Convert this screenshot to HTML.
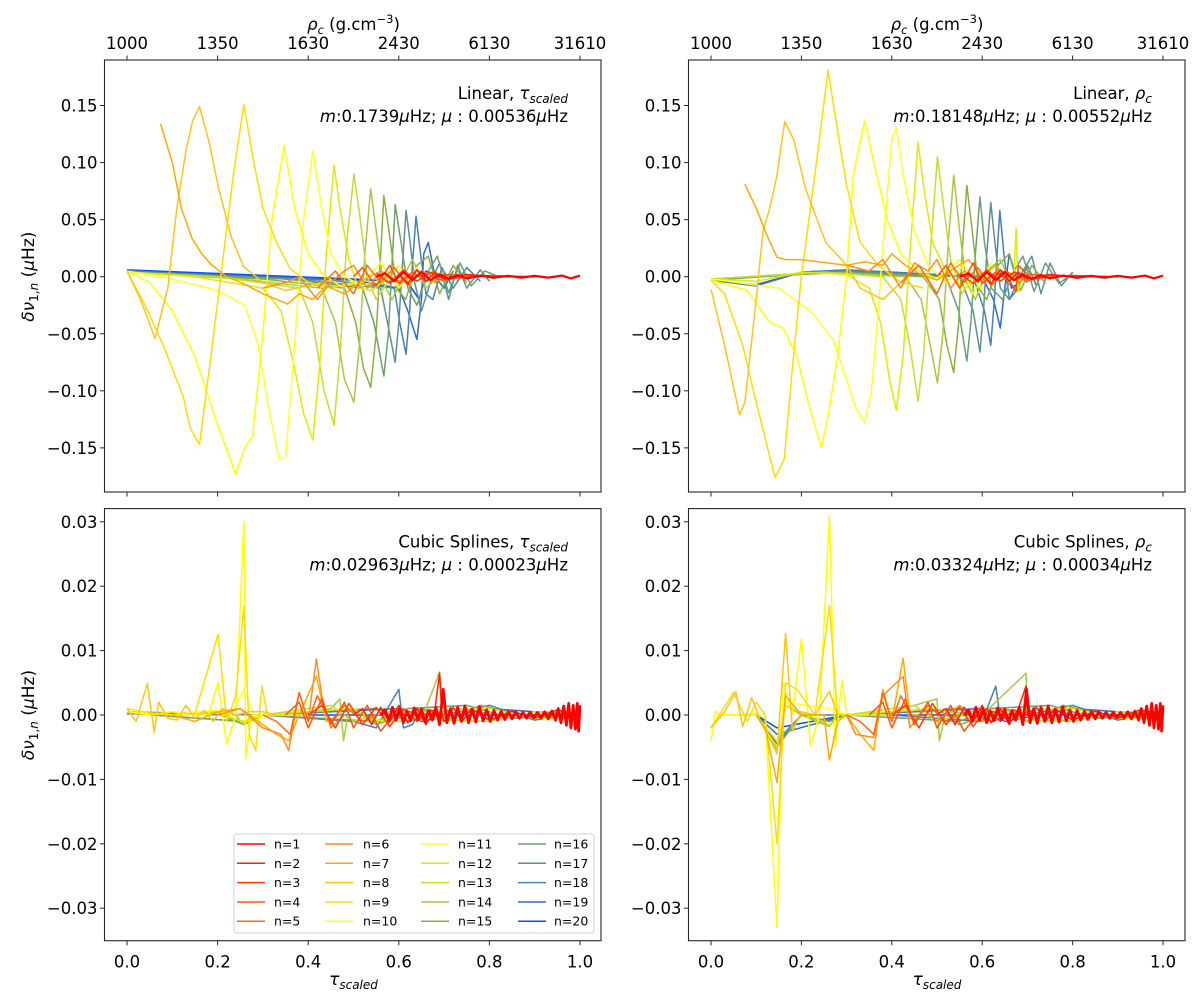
<!DOCTYPE html>
<html><head><meta charset="utf-8"><style>
html,body{margin:0;padding:0;background:#fff;}
svg{display:block;font-family:"DejaVu Sans","Liberation Sans",sans-serif;}
</style></head><body>
<svg id="fig" width="1200" height="993" viewBox="0 0 1200 993" xmlns="http://www.w3.org/2000/svg"></svg>
<script>
// ---------- data ----------
const seriesNames = ["n=1","n=2","n=3","n=4","n=5","n=6","n=7","n=8","n=9","n=10","n=11","n=12","n=13","n=14","n=15","n=16","n=17","n=18","n=19","n=20"];
const seriesColors = ["#ff0000","#ff2200","#ff3c00","#ff5500","#ff6a10","#ff8c20","#ffaa00","#ffc41a","#ffdd00","#ffff00","#ffff2a","#e2ea00","#c6dc30","#a8c840","#88b040","#6f9f70","#5f9090","#4a80b0","#2f6ad0","#0050ff"];
const topTicks = ["1000","1350","1630","2430","6130","31610"];
const xTickVals = [0,0.2,0.4,0.6,0.8,1.0];
const xTickLabels = ["0.0","0.2","0.4","0.6","0.8","1.0"];
const linTickVals = [0.15,0.10,0.05,0,-0.05,-0.10,-0.15];
const linTickLabels = ["0.15","0.10","0.05","0.00","\u22120.05","\u22120.10","\u22120.15"];
const splTickVals = [0.03,0.02,0.01,0,-0.01,-0.02,-0.03];
const splTickLabels = ["0.03","0.02","0.01","0.00","\u22120.01","\u22120.02","\u22120.03"];

const redNoise = [[.56,0],[.57,.0008],[.578,-.001],[.586,.0012],[.594,-.0008],[.602,.001],[.61,-.0012],[.618,.0006],[.626,-.0009],[.634,.0011],[.642,-.0007],[.65,.0009],[.658,-.0011],[.666,.0007],[.674,-.0008],[.682,.0012],[.69,-.0015],[.698,.004],[.706,-.0012],[.714,.001],[.722,-.0013],[.73,.0012],[.738,-.001],[.746,.0014],[.754,-.0012],[.762,.0009],[.77,-.0011],[.778,.0013],[.786,-.0009],[.794,.0008],[.802,-.001],[.81,.0007],[.818,-.0008],[.826,.0006],[.834,-.0007],[.842,.0005],[.85,-.0006],[.858,.0005],[.866,-.0005],[.874,.0004],[.882,-.0005],[.89,.0004],[.898,-.0004],[.906,.0004],[.914,-.0005],[.922,.0005],[.93,-.0006],[.938,.0006],[.946,-.0008],[.952,.001],[.958,-.0012],[.964,.0014],[.97,-.0016],[.975,.0018],[.98,-.002],[.985,.0015],[.99,-.0022],[.994,.0018],[.997,-.0025],[1.0,.0015]];
const redNoiseLinear = [[.55,0],[.57,.003],[.59,-.004],[.61,.004],[.63,-.003],[.65,.004],[.67,-.003],[.69,.002],[.71,-.002],[.73,.0015],[.75,-.0015],[.78,.001],[.81,-.001],[.84,.0008],[.87,-.0008],[.9,.0007],[.93,-.0008],[.96,.001],[.98,-.0015],[1.0,.001]];

const tlPoints = [
 redNoiseLinear,
 [[.6,.002],[.62,-.006],[.64,.006],[.66,-.004],[.68,.004],[.7,-.002],[.75,.002],[.8,0],[.9,0]],
 [[.55,.003],[.58,-.006],[.61,.006],[.64,-.004],[.67,.004],[.7,-.002],[.8,.001],[.9,0]],
 [[.5,0],[.52,.008],[.55,-.008],[.58,.01],[.6,-.006],[.63,.004],[.66,-.004],[.7,.002],[.8,0]],
 [[.42,-.01],[.46,.005],[.5,-.015],[.53,.01],[.56,-.005],[.59,.008],[.62,-.008],[.65,.005],[.7,-.004],[.75,.002]],
 [[.3,-.01],[.35,-.005],[.38,0],[.42,-.02],[.45,-.005],[.48,.005],[.5,.01],[.53,-.01],[.56,.005],[.6,-.004],[.64,.006],[.68,-.005],[.72,.003]],
 [[.074,.134],[.1,.1],[.12,.06],[.143,.034],[.165,.02],[.185,.011],[.22,0],[.257,-.006],[.3,-.015],[.355,-.024],[.38,-.015],[.41,-.02],[.44,-.008],[.48,-.015],[.52,-.003],[.56,.005],[.6,-.005],[.65,.003]],
 [[0,.005],[.03,-.02],[.062,-.054],[.09,-.01],[.11,.06],[.13,.11],[.145,.137],[.16,.149],[.18,.12],[.203,.076],[.23,.035],[.257,.009],[.3,-.005],[.35,-.012],[.4,-.008],[.45,-.003]],
 [[0,.005],[.04,-.025],[.08,-.06],[.124,-.105],[.14,-.133],[.16,-.147],[.185,-.07],[.21,.01],[.235,.09],[.258,.151],[.28,.1],[.3,.06],[.33,.03],[.36,.007],[.4,-.005],[.45,-.01],[.5,-.005]],
 [[0,.005],[.05,-.005],[.1,-.03],[.15,-.07],[.2,-.13],[.24,-.173],[.26,-.15],[.277,-.14],[.3,-.05],[.32,.05],[.347,.115],[.37,.06],[.4,.02],[.43,.003],[.47,-.008],[.52,-.005],[.56,.012],[.6,-.01],[.64,.008]],
 [[0,.005],[.1,-.002],[.2,-.012],[.26,-.025],[.29,-.06],[.31,-.11],[.336,-.16],[.35,-.158],[.37,-.06],[.39,.05],[.41,.11],[.43,.06],[.45,.02],[.48,0],[.52,-.008],[.56,-.003],[.6,.01],[.63,-.008]],
 [[0,.004],[.15,0],[.3,-.01],[.34,-.03],[.37,-.08],[.39,-.12],[.41,-.143],[.425,-.08],[.44,.02],[.457,.098],[.47,.06],[.49,.015],[.51,-.01],[.54,-.012],[.58,0]],
 [[0,.004],[.2,0],[.38,-.01],[.41,-.04],[.435,-.1],[.457,-.13],[.47,-.07],[.485,.03],[.501,.09],[.515,.05],[.53,0],[.55,-.02],[.575,-.005],[.6,.01],[.62,0]],
 [[0,.004],[.25,-.002],[.43,-.01],[.46,-.04],[.48,-.09],[.501,-.11],[.513,-.06],[.525,.02],[.538,.077],[.55,.04],[.565,-.005],[.585,-.02],[.61,0],[.63,.015],[.66,-.01],[.7,.005]],
 [[0,.004],[.3,-.002],[.48,-.01],[.505,-.04],[.522,-.08],[.538,-.097],[.55,-.05],[.56,.02],[.567,.071],[.58,.035],[.595,-.01],[.615,-.02],[.64,.01],[.665,.018],[.69,-.015],[.72,.01],[.75,-.005]],
 [[0,.004],[.35,-.002],[.52,-.01],[.545,-.04],[.567,-.087],[.577,-.05],[.585,.01],[.592,.063],[.605,.03],[.62,-.01],[.64,-.025],[.665,.005],[.685,.018],[.71,-.014],[.735,.012],[.76,-.008],[.79,.005],[.82,0]],
 [[0,.005],[.4,-.003],[.56,-.01],[.575,-.04],[.592,-.075],[.6,-.04],[.608,.01],[.616,.058],[.625,.03],[.635,-.005],[.65,-.03],[.67,-.005],[.69,.012],[.71,-.02],[.73,.01],[.75,-.01],[.78,.006],[.8,-.004]],
 [[0,.005],[.45,-.003],[.59,-.01],[.602,-.04],[.616,-.068],[.624,-.03],[.63,.01],[.638,.053],[.648,.02],[.66,-.015],[.675,-.02],[.695,.008],[.72,-.01],[.75,.008],[.78,-.004]],
 [[0,.005],[.5,-.003],[.6,-.01],[.62,-.03],[.64,-.055],[.65,-.02],[.655,.02],[.665,.03],[.68,0],[.7,-.01],[.72,.005]],
 [[0,.006],[.5,-.002],[.62,-.005],[.645,-.02],[.66,.005],[.68,.002],[.72,0]]
];

const trPoints = [
 redNoiseLinear,
 [[.6,.002],[.62,-.006],[.64,.006],[.66,-.004],[.68,.004],[.7,-.002],[.75,.002],[.8,0],[.9,0]],
 [[.55,.003],[.58,-.006],[.61,.006],[.64,-.004],[.67,.004],[.7,-.002],[.8,.001],[.9,0]],
 [[.5,0],[.52,.01],[.55,-.01],[.58,.012],[.6,-.006],[.63,.004],[.66,-.004],[.675,-.013],[.68,.01],[.7,.002],[.8,0]],
 [[.42,-.005],[.46,.01],[.5,-.015],[.53,.012],[.56,-.005],[.59,.008],[.62,-.008],[.65,.005],[.7,-.004],[.75,.002]],
 [[.3,.01],[.35,.005],[.38,.015],[.42,-.01],[.45,.012],[.48,.005],[.5,.015],[.53,-.01],[.56,.005],[.6,-.004],[.64,.006],[.68,-.005],[.72,.003]],
 [[.075,.081],[.1,.06],[.125,.035],[.146,.017],[.165,.015],[.2,.015],[.259,.012],[.3,.01],[.34,.013],[.38,.01],[.4,.02],[.43,.01],[.46,.003],[.5,-.003],[.54,.008],[.57,.015],[.6,0],[.63,.01],[.66,-.005]],
 [[0,-.011],[.03,-.06],[.063,-.121],[.075,-.11],[.1,-.02],[.115,.04],[.13,.06],[.146,.089],[.163,.136],[.183,.12],[.21,.076],[.254,.03],[.3,.01],[.33,-.01],[.38,-.02],[.42,-.005]],
 [[0,-.003],[.03,-.015],[.07,-.06],[.1,-.11],[.125,-.15],[.142,-.176],[.162,-.16],[.18,-.08],[.2,0],[.23,.09],[.259,.181],[.275,.14],[.3,.08],[.33,.03],[.37,.01],[.42,-.005],[.47,-.01]],
 [[0,-.003],[.08,-.012],[.13,-.04],[.16,-.045],[.19,-.07],[.215,-.11],[.244,-.15],[.26,-.12],[.28,-.07],[.3,0],[.315,.09],[.34,.137],[.36,.1],[.39,.05],[.42,.02],[.46,.005],[.5,-.002],[.55,.015],[.58,-.015],[.62,.012]],
 [[0,-.002],[.15,-.01],[.22,-.03],[.27,-.055],[.3,-.09],[.32,-.115],[.34,-.128],[.355,-.1],[.37,-.03],[.385,.05],[.4,.12],[.41,.131],[.425,.09],[.45,.04],[.48,.01],[.52,-.005],[.56,.01],[.6,-.012]],
 [[0,-.002],[.1,-.004],[.2,.004],[.3,.002],[.35,-.01],[.375,-.04],[.395,-.09],[.41,-.117],[.425,-.07],[.44,.02],[.458,.118],[.47,.08],[.49,.03],[.52,.005],[.56,-.01],[.6,0],[.67,0],[.675,.042],[.68,-.013],[.69,0]],
 [[0,-.002],[.25,.004],[.38,0],[.42,-.02],[.44,-.06],[.458,-.109],[.47,-.07],[.485,.02],[.501,.105],[.515,.06],[.53,.015],[.555,-.015],[.58,0]],
 [[0,-.002],[.25,.004],[.43,0],[.465,-.02],[.485,-.06],[.501,-.093],[.513,-.05],[.525,.03],[.537,.089],[.55,.04],[.565,-.005],[.585,-.02],[.61,.005],[.64,.015],[.67,-.01]],
 [[0,-.002],[.25,.004],[.47,0],[.505,-.02],[.522,-.06],[.537,-.084],[.548,-.04],[.557,.03],[.566,.08],[.578,.04],[.592,-.01],[.61,-.02],[.635,.01],[.66,.02],[.685,-.012],[.71,.01],[.74,-.006]],
 [[0,-.002],[.3,.004],[.52,0],[.548,-.03],[.566,-.074],[.575,-.04],[.585,.02],[.595,.07],[.605,.03],[.62,-.01],[.645,-.02],[.67,.005],[.69,.018],[.715,-.013],[.74,.012],[.77,-.006],[.8,.003]],
 [[0,-.003],[.3,.005],[.55,0],[.58,-.03],[.595,-.066],[.603,-.03],[.61,.02],[.619,.065],[.628,.03],[.64,-.01],[.66,-.02],[.69,.005],[.71,.018],[.73,-.015],[.75,.012],[.775,-.008],[.8,.004]],
 [[0,-.003],[.1,-.008],[.2,.004],[.3,.006],[.58,0],[.605,-.03],[.619,-.06],[.627,-.02],[.633,.02],[.639,.058],[.648,.02],[.66,-.02],[.68,-.01],[.7,.01],[.72,-.008]],
 [[0,-.003],[.1,-.008],[.2,.004],[.3,.006],[.6,0],[.625,-.02],[.64,-.045],[.65,-.01],[.66,.02],[.67,.005],[.7,-.005]],
 [[0,-.003],[.1,-.007],[.2,.004],[.3,.005],[.62,0],[.655,.005],[.665,-.01],[.7,0]]
];

const blPoints = [
 redNoise,
 [[.5,0],[.52,.001],[.54,-.0015],[.56,.0012],[.58,-.001],[.6,.0015],[.62,-.0012],[.64,.001],[.66,-.0015],[.68,.001],[.69,.0065],[.695,0],[.7,-.001],[.72,.0012],[.74,-.001],[.76,.001],[.8,-.0008],[.85,.0006],[.9,-.0005],[.95,.0008],[1,0]],
 [[.4,0],[.43,.0015],[.46,-.002],[.49,.0018],[.52,-.0015],[.55,.0012],[.58,-.0018],[.61,.001],[.64,-.001],[.67,.0008],[.7,0]],
 [[.35,0],[.38,.002],[.4,-.002],[.43,.0025],[.45,-.0015],[.48,.002],[.5,-.002],[.53,.0015],[.56,-.0025],[.6,.001],[.65,0]],
 [[.3,0],[.33,-.001],[.36,-.003],[.38,.0035],[.4,-.001],[.42,.003],[.45,-.001],[.48,.0015],[.52,-.001],[.55,0]],
 [[.2,0],[.25,.001],[.3,-.002],[.34,-.003],[.357,-.0055],[.38,.0035],[.4,-.001],[.418,.0087],[.43,.003],[.45,-.002],[.48,0]],
 [[.1,0],[.15,-.001],[.2,.0005],[.25,.001],[.3,-.0015],[.33,-.003],[.357,-.004],[.38,0],[.418,.006],[.44,-.001],[.47,0]],
 [[0,.001],[.02,-.001],[.045,.0049],[.06,-.0027],[.07,.002],[.09,-.0005],[.11,-.0008],[.13,.0015],[.15,-.0005],[.17,.0007],[.19,-.001],[.21,.001],[.24,0],[.27,.0005],[.3,.0005],[.33,0]],
 [[0,.001],[.05,.0003],[.1,0],[.15,.0002],[.201,.0125],[.22,-.001],[.24,.003],[.258,.0169],[.27,-.003],[.284,-.0055],[.298,.0045],[.31,0],[.35,0]],
 [[0,.0005],[.05,0],[.1,.0005],[.15,0],[.18,0],[.201,.005],[.22,-.0045],[.24,0],[.258,.030],[.262,-.0068],[.275,0],[.3,-.0005]],
 [[0,.0005],[.1,0],[.2,.0008],[.23,0],[.258,.004],[.28,0],[.4,0]],
 [[0,.0005],[.1,0],[.2,.0003],[.258,-.001],[.3,0],[.5,.001],[.55,-.0008],[.6,-.001],[.7,.0008],[.8,.001],[.9,-.0005],[1,-.0005]],
 [[0,.0005],[.1,0],[.2,.0005],[.258,-.0012],[.3,0],[.45,.0015],[.5,-.001],[.6,.001],[.7,-.0008],[.8,-.001],[.9,.0005],[1,.0005]],
 [[0,.0005],[.1,0],[.2,.0005],[.24,0],[.258,-.0015],[.28,0],[.4,.0005],[.45,.001],[.47,.0025],[.478,-.004],[.49,.001],[.55,-.001],[.6,.001],[.65,-.0008],[.69,.0067],[.7,-.0005],[.75,.001],[.8,-.0008],[.9,.0005],[1,-.0005]],
 [[0,.0005],[.2,.0002],[.258,-.0015],[.3,0],[.5,.001],[.55,-.0015],[.65,.001],[.7,-.001],[.78,.0015],[.9,-.0005],[1,.0005]],
 [[0,.0003],[.258,-.001],[.3,0],[.55,-.001],[.62,.001],[.75,.0015],[.85,-.0005],[1,0]],
 [[0,.0003],[.258,-.001],[.3,0],[.55,.001],[.62,-.001],[.73,.001],[.85,-.0005],[1,0]],
 [[0,.0003],[.3,0],[.5,-.001],[.55,-.002],[.6,.004],[.61,-.002],[.63,-.0015],[.65,.001],[.7,0],[.8,.0015],[.9,-.0008],[1,.0005]],
 [[0,.0003],[.3,0],[.6,.001],[.65,-.001],[.8,.001],[1,0]],
 [[0,.0002],[.3,0],[.6,0],[.8,0],[1,0]]
];

const brPoints = [
 redNoise,
 [[.5,0],[.52,.001],[.54,-.0015],[.56,.0012],[.58,-.001],[.6,.0015],[.62,-.0012],[.64,.001],[.66,-.0015],[.68,.001],[.697,.0045],[.7,0],[.72,.0012],[.74,-.001],[.76,.001],[.8,-.0008],[.85,.0006],[.9,-.0005],[.95,.0008],[1,0]],
 [[.4,0],[.43,.0015],[.46,-.002],[.49,.0018],[.52,-.0015],[.55,.0012],[.58,-.0018],[.61,.001],[.64,-.001],[.67,.0008],[.7,0]],
 [[.35,0],[.38,.002],[.4,-.002],[.43,.0025],[.45,-.0015],[.48,.002],[.5,-.002],[.53,.0015],[.56,-.0025],[.6,.001],[.65,0]],
 [[.3,0],[.33,-.001],[.36,-.003],[.38,.0035],[.4,-.001],[.42,.003],[.45,-.001],[.48,.0015],[.52,-.001],[.55,0]],
 [[.3,0],[.32,-.003],[.36,-.0035],[.38,.003],[.425,.006],[.44,-.002],[.47,.001],[.5,-.001],[.55,.0015],[.6,-.001],[.65,.001],[.7,0]],
 [[.1,0],[.12,-.002],[.146,-.0105],[.165,.003],[.2,0],[.25,0],[.262,-.007],[.28,-.001],[.3,0],[.33,-.003],[.36,-.0055],[.38,.004],[.4,-.001],[.425,.0088],[.44,0],[.46,0]],
 [[0,-.002],[.03,.0005],[.055,.0036],[.07,-.0018],[.09,.0027],[.11,-.001],[.146,-.006],[.165,.0127],[.18,-.0025],[.2,.0005],[.23,0],[.262,.0037],[.28,0]],
 [[0,-.002],[.05,.0035],[.08,-.001],[.1,.002],[.12,0],[.146,-.02],[.165,.005],[.19,.004],[.23,0],[.262,.017],[.28,0],[.35,0]],
 [[0,-.004],[.005,-.002],[.01,.0006],[.02,0],[.05,0],[.1,.0003],[.12,-.0005],[.146,-.033],[.16,.005],[.18,0],[.2,.0118],[.22,-.0047],[.24,0],[.262,.031],[.275,-.005],[.29,.0055],[.3,0],[.35,0]],
 [[0,-.002],[.02,0],[.1,0],[.146,-.004],[.165,.002],[.262,.001],[.3,0],[.4,0]],
 [[0,-.002],[.02,0],[.1,0],[.146,-.005],[.165,.0015],[.262,-.0015],[.3,0],[.5,.001],[.6,-.001],[.7,.0008],[.8,.001],[.9,-.0005],[1,-.0005]],
 [[0,-.002],[.02,0],[.1,0],[.146,-.005],[.165,.0015],[.262,-.0015],[.3,0],[.45,.0015],[.5,-.001],[.6,.001],[.7,-.0008],[.8,-.001],[.9,.0005],[1,.0005]],
 [[0,-.002],[.02,0],[.1,0],[.146,-.0055],[.165,.0015],[.2,0],[.262,-.0018],[.28,0],[.4,.0005],[.45,.0015],[.5,.0025],[.505,-.004],[.52,.0005],[.6,0],[.697,.0065],[.7,0],[.8,-.001],[.9,.0005],[1,-.0008]],
 [[0,-.002],[.02,0],[.1,0],[.146,-.005],[.2,0],[.262,-.0015],[.3,0],[.5,.001],[.55,-.0015],[.65,.001],[.7,-.001],[.78,.0015],[.9,-.0005],[1,.0005]],
 [[0,-.002],[.02,0],[.1,0],[.146,-.004],[.2,0],[.262,-.001],[.3,0],[.55,-.001],[.62,.001],[.75,.0015],[.85,-.0005],[1,0]],
 [[0,-.002],[.02,0],[.1,0],[.146,-.004],[.2,0],[.262,-.001],[.3,0],[.55,.001],[.62,-.001],[.73,.001],[.85,-.0005],[1,0]],
 [[0,-.002],[.02,0],[.1,0],[.146,-.0045],[.2,0],[.4,0],[.6,-.001],[.63,.0045],[.64,-.0005],[.7,0],[.8,.0015],[.9,-.0008],[1,.0005]],
 [[0,-.002],[.02,0],[.1,0],[.146,-.003],[.3,0],[.6,.001],[.65,-.001],[.8,.001],[1,0]],
 [[0,-.002],[.02,0],[.1,0],[.146,-.002],[.3,0],[.6,0],[.8,0],[1,0]]
];

// ---------- rendering ----------
const NS = "http://www.w3.org/2000/svg";
const svg = document.getElementById("fig");
function mk(tag, attrs, parent, text) {
  const e = document.createElementNS(NS, tag);
  for (const k in attrs) e.setAttribute(k, attrs[k]);
  if (text !== undefined) e.textContent = text;
  (parent || svg).appendChild(e);
  return e;
}

const panels = [
  {key:"linear-tau", pts:tlPoints, L:104.5, R:601, T:60, B:492, x0:127, x1:580, y0:276.7, ys:1141.3, ticks:linTickVals, tlabels:linTickLabels, title:["Linear, ","\u03C4","scaled"], stats:["0.1739","0.00536"], ylabel:true, xlabels:false, top:true, legend:false, redW:2.2},
  {key:"linear-rho", pts:trPoints, L:688.5, R:1185, T:60, B:492, x0:711, x1:1163, y0:276.7, ys:1141.3, ticks:linTickVals, tlabels:linTickLabels, title:["Linear, ","\u03C1","c"], stats:["0.18148","0.00552"], ylabel:false, xlabels:false, top:true, legend:false, redW:2.2},
  {key:"spline-tau", pts:blPoints, L:104.5, R:601, T:508.6, B:940.7, x0:127, x1:580, y0:715, ys:6440, ticks:splTickVals, tlabels:splTickLabels, title:["Cubic Splines, ","\u03C4","scaled"], stats:["0.02963","0.00023"], ylabel:true, xlabels:true, top:false, legend:true, redW:2.8},
  {key:"spline-rho", pts:brPoints, L:688.5, R:1185, T:508.6, B:940.7, x0:711, x1:1163, y0:715, ys:6440, ticks:splTickVals, tlabels:splTickLabels, title:["Cubic Splines, ","\u03C1","c"], stats:["0.03324","0.00034"], ylabel:false, xlabels:true, top:false, legend:false, redW:2.8}
];

panels.forEach(p => {
  const g = mk("g", {});
  
  
  const xs = t => p.x0 + t * (p.x1 - p.x0);
  const ysc = v => p.y0 - v * p.ys;
  const clipId = "clip-" + p.key;
  const cp = mk("clipPath", {id: clipId}, g);
  mk("rect", {x:p.L, y:p.T, width:p.R-p.L, height:p.B-p.T}, cp);

  const lines = mk("g", {"clip-path":"url(#"+clipId+")", fill:"none", "stroke-linejoin":"round"}, g);
  
  
  for (let i = p.pts.length - 1; i >= 0; i--) {
    const arr = p.pts[i];
    const d = arr.map((pt, j) => (j ? "L" : "M") + xs(pt[0]).toFixed(2) + " " + ysc(pt[1]).toFixed(2)).join(" ");
    const path = mk("path", {d:d, stroke:seriesColors[i], "stroke-width": i === 0 ? p.redW : 1.5}, lines);
    
    
  }

  const fr = mk("rect", {x:p.L, y:p.T, width:p.R-p.L, height:p.B-p.T, fill:"none", stroke:"#262626", "stroke-width":1.1}, g);
  
  

  p.ticks.forEach((v, k) => {
    const y = ysc(v);
    mk("line", {x1:p.L-4.5, x2:p.L, y1:y, y2:y, stroke:"#262626", "stroke-width":1}, g);
    const t = mk("text", {x:p.L-7, y:y+6, "text-anchor":"end", "font-size":16.5, fill:"#000"}, g, p.tlabels[k]);
    
    
  });
  xTickVals.forEach((v, k) => {
    const x = xs(v);
    mk("line", {x1:x, x2:x, y1:p.B, y2:p.B+4.5, stroke:"#262626", "stroke-width":1}, g);
    if (p.xlabels) {
      const t = mk("text", {x:x, y:p.B+27, "text-anchor":"middle", "font-size":16.5, fill:"#000"}, g, xTickLabels[k]);
      
      
    }
    if (p.top) {
      mk("line", {x1:x, x2:x, y1:p.T, y2:p.T-4.5, stroke:"#262626", "stroke-width":1}, g);
      const t = mk("text", {x:x, y:p.T-11, "text-anchor":"middle", "font-size":16.5, fill:"#000"}, g, topTicks[k]);
      
      
    }
  });
  if (p.top) {
    const cx = (p.x0 + p.x1) / 2;
    const t = mk("text", {x:cx, y:30, "text-anchor":"middle", "font-size":16.5, fill:"#000"}, g);
    
    
    mk("tspan", {"font-style":"italic"}, t, "\u03C1");
    mk("tspan", {"font-size":11.5, dy:4, "font-style":"italic"}, t, "c");
    mk("tspan", {dy:-4}, t, " (g.cm");
    mk("tspan", {"font-size":11.5, dy:-7}, t, "\u22123");
    mk("tspan", {dy:7}, t, ")");
  }
  if (p.xlabels) {
    const cx = (p.x0 + p.x1) / 2;
    const t = mk("text", {x:cx, y:985, "text-anchor":"middle", "font-size":17, fill:"#000"}, g);
    
    
    mk("tspan", {"font-style":"italic"}, t, "\u03C4");
    mk("tspan", {"font-size":12, dy:4, "font-style":"italic"}, t, "scaled");
  }
  if (p.ylabel) {
    const cy = p.y0;
    const t = mk("text", {x:0, y:0, transform:"translate(34 "+cy+") rotate(-90)", "text-anchor":"middle", "font-size":17, fill:"#000"}, g);
    
    
    mk("tspan", {"font-style":"italic"}, t, "\u03B4\u03BD");
    mk("tspan", {"font-size":12, dy:4}, t, "1,");
    mk("tspan", {"font-size":12, "font-style":"italic"}, t, "n");
    mk("tspan", {dy:-4}, t, " (");
    mk("tspan", {"font-style":"italic"}, t, "\u03BC");
    mk("tspan", {}, t, "Hz)");
  }
  const ax = p.R - 33;
  const t1 = mk("text", {x:ax, y:p.T+39, "text-anchor":"end", "font-size":16.5, fill:"#000"}, g);
  
  
  mk("tspan", {}, t1, p.title[0]);
  mk("tspan", {"font-style":"italic"}, t1, p.title[1]);
  mk("tspan", {"font-size":12, dy:4, "font-style":"italic"}, t1, p.title[2]);
  const t2 = mk("text", {x:ax, y:p.T+62, "text-anchor":"end", "font-size":16.5, fill:"#000"}, g);
  
  
  mk("tspan", {"font-style":"italic"}, t2, "m");
  mk("tspan", {}, t2, ":" + p.stats[0]);
  mk("tspan", {"font-style":"italic"}, t2, "\u03BC");
  mk("tspan", {}, t2, "Hz; ");
  mk("tspan", {"font-style":"italic"}, t2, "\u03BC");
  mk("tspan", {}, t2, " : " + p.stats[1]);
  mk("tspan", {"font-style":"italic"}, t2, "\u03BC");
  mk("tspan", {}, t2, "Hz");

  if (p.legend) {
    const lg = mk("g", {}, g);
    
    
    mk("rect", {x:234, y:834, width:360, height:99, rx:3, fill:"#fff", "fill-opacity":0.85, stroke:"#d0d0d0", "stroke-width":1}, lg);
    const colLine = [237, 325, 421, 518];
    const colText = [274, 363, 458, 554];
    const rowY = [844, 863.3, 882.6, 902, 921.2];
    seriesNames.forEach((nm, i) => {
      const c = Math.floor(i / 5), r = i % 5;
      const e = mk("g", {}, lg);
      
      
      mk("line", {x1:colLine[c], x2:colLine[c]+28, y1:rowY[r], y2:rowY[r], stroke:seriesColors[i], "stroke-width":1.5}, e);
      mk("text", {x:colText[c], y:rowY[r]+4.5, "font-size":12.5, fill:"#000"}, e, nm);
    });
  }
});
</script>
</body></html>
